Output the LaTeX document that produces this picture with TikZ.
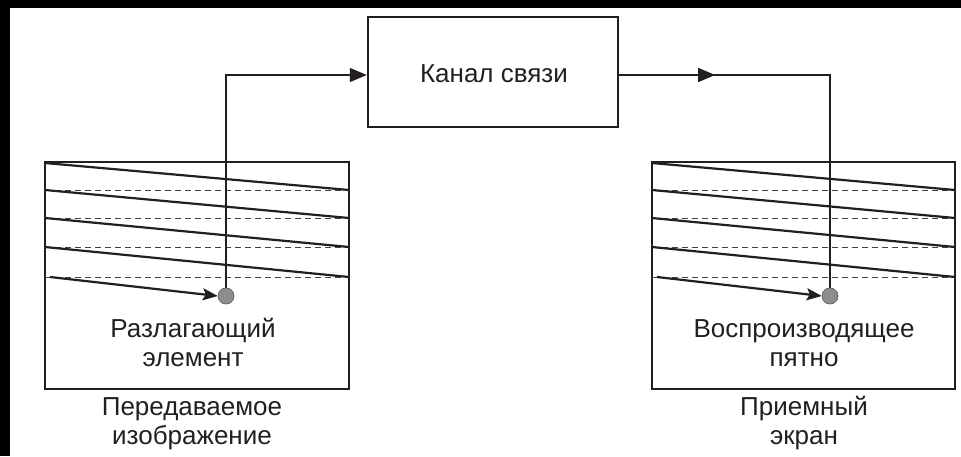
\documentclass[tikz,border=0pt]{standalone}
\usepackage{fontspec}
\setmainfont{Liberation Sans}
\usetikzlibrary{arrows.meta,decorations.markings}
\definecolor{ink}{HTML}{231F20}
\definecolor{spot}{HTML}{8C8C8C}
\begin{document}
\begin{tikzpicture}[x=1pt,y=-1pt,
  frame/.style={draw=ink,line width=2.4pt},
  scanline/.style={draw=ink,line width=2.2pt},
  retrace/.style={draw=ink!85,line width=1pt,dash pattern=on 6pt off 4pt},
  wire/.style={draw=ink,line width=1.3pt},
  spotdot/.style={circle,fill=spot,draw=ink!70,line width=0.5pt,minimum size=16pt,inner sep=0pt},
  lbl/.style={text=ink,font=\fontsize{26pt}{29pt}\selectfont,align=center,inner sep=0pt},
  head/.style={-{Triangle[length=17pt,width=14pt]}}]
  % canvas
  \useasboundingbox (0,0) rectangle (961,456);
  \fill[white] (0,0) rectangle (961,456);
  \fill[black] (0,0) rectangle (961,8);
  \fill[black] (0,0) rectangle (10,456);

  % channel
  \node[frame,minimum width=250pt,minimum height=110pt,inner sep=0pt] (chan) at (493,72) {};
  \node[lbl,anchor=base] (chantext) at (494,82) {Канал связи};

  % two rasters (transmitting image and receiving screen)
  \foreach \name/\xl/\xr/\xd in {L/45/349/226, R/652/955/830}{
    \draw[frame] (\xl,162) rectangle (\xr,389);
    \foreach \ya/\yb in {163/190,190/218,218/247,247/277}{
      \draw[retrace] (\xl,\yb) -- (\xr,\yb);
      \draw[scanline] (\xl,\ya) -- (\xr,\yb);
    }
    \node[spotdot] (dot\name) at (\xd,296) {};
    \draw[scanline,-{Stealth[length=15pt,width=12pt,inset=3pt]}] (\xl+5,277) -- (dot\name.west);
  }

  % connectors
  \draw[wire,head] (dotL.center) |- ([yshift=-3pt]chan.west);
  \draw[wire,postaction={decorate},decoration={markings,
      mark=at position 96pt with {\arrow{Triangle[length=17pt,width=14pt]}}}]
    ([yshift=-3pt]chan.east) -| (dotR.center);
  \node[spotdot] at (dotL) {};
  \node[spotdot] at (dotR) {};

  % labels (anchored at the baseline of the second line)
  \node[lbl,anchor=base] (spotL) at (193,366) {Разлагающий\\элемент};
  \node[lbl,anchor=base] (capL) at (192,444) {Передаваемое\\изображение};
  \node[lbl,anchor=base] (spotR) at (804,366) {Воспроизводящее\\пятно};
  \node[lbl,anchor=base] (capR) at (804,444) {Приемный\\экран};
\end{tikzpicture}
\end{document}
